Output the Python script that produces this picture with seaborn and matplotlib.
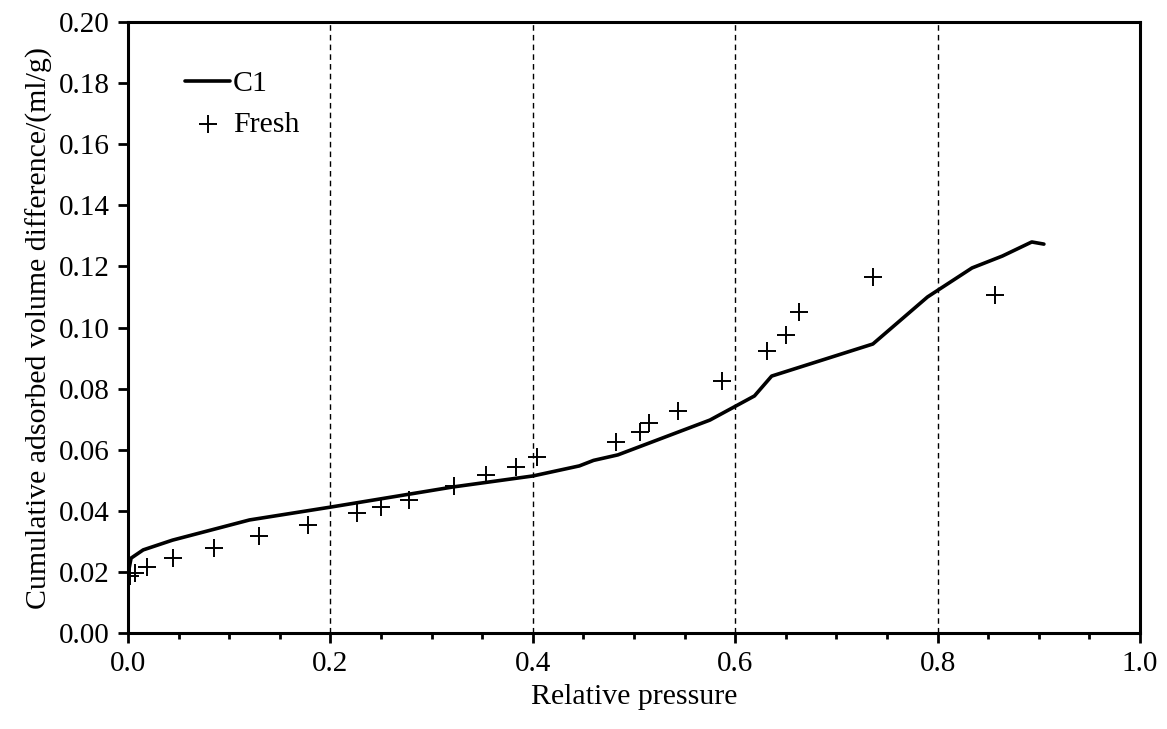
import matplotlib
matplotlib.use("Agg")
import matplotlib.pyplot as plt
import seaborn as sns
import numpy as np
from matplotlib.ticker import MultipleLocator

# C1 line
c1_x = [0.001, 0.003, 0.015, 0.044, 0.12, 0.2, 0.321, 0.400, 0.446, 0.46, 0.484,
        0.575, 0.619, 0.636, 0.736, 0.79, 0.834, 0.864, 0.893, 0.905]
c1_y = [0.021, 0.0245, 0.0272, 0.0304, 0.037, 0.0412, 0.0478, 0.0514, 0.0547, 0.0565,
        0.0583, 0.0697, 0.0776, 0.0841, 0.0946, 0.110, 0.1195, 0.1234, 0.128, 0.1273]

# Fresh points
fresh_x = [0.002, 0.007, 0.019, 0.044, 0.085, 0.129, 0.178, 0.226, 0.250, 0.278, 0.322,
           0.354, 0.383, 0.404, 0.482, 0.506, 0.515, 0.543, 0.587, 0.631, 0.650, 0.663,
           0.736, 0.857]
fresh_y = [0.0187, 0.0196, 0.0216, 0.0245, 0.0278, 0.0317, 0.0353, 0.0393, 0.0412, 0.0435,
           0.0481, 0.0517, 0.0543, 0.0576, 0.0625, 0.0658, 0.0687, 0.0727, 0.0825, 0.0923,
           0.0975, 0.105, 0.1165, 0.1106]

x_ticks = [0.0, 0.2, 0.4, 0.6, 0.8, 1.0]
y_ticks = [0.00, 0.02, 0.04, 0.06, 0.08, 0.10, 0.12, 0.14, 0.16, 0.18, 0.20]
grid_x = [0.2, 0.4, 0.6, 0.8]

sns.set_theme(style="white")
plt.rcParams['font.family'] = ['Liberation Serif', 'DejaVu Serif']
plt.rcParams['text.color'] = 'black'
plt.rcParams['axes.labelcolor'] = 'black'

fig = plt.figure(figsize=(11.67, 7.29), dpi=100)
ax = fig.add_axes([0.1097, 0.1317, 0.8672, 0.8381])

for gx in grid_x:
    ax.axvline(gx, color='black', linestyle=(0, (4, 3)), linewidth=1.0, zorder=1)

sns.lineplot(x=c1_x, y=c1_y, ax=ax, color='black', linewidth=2.6, label='C1',
             sort=False, estimator=None, zorder=3)
sns.scatterplot(x=fresh_x, y=fresh_y, ax=ax, marker='+', s=170, color='black',
                linewidth=1.4, label='Fresh', zorder=4)

ax.set_xlim(0, 1.0)
ax.set_ylim(0, 0.20)
ax.set_xticks(x_ticks)
ax.set_xticklabels([f"{v:.1f}" for v in x_ticks])
ax.set_yticks(y_ticks)
ax.set_yticklabels([f"{v:.2f}" for v in y_ticks])
ax.xaxis.set_minor_locator(MultipleLocator(0.05))

for s in ax.spines.values():
    s.set_color('black')
    s.set_linewidth(2.2)

ax.tick_params(axis='both', which='major', direction='out', length=7, width=2,
               colors='black', labelsize=21, bottom=True, left=True, pad=6)
ax.tick_params(axis='x', which='minor', direction='out', length=4, width=2,
               colors='black', bottom=True)

ax.set_xlabel('Relative pressure', fontsize=21.5, color='black', labelpad=5)
ax.set_ylabel('Cumulative adsorbed volume difference/(ml/g)', fontsize=21.5,
              color='black', labelpad=4)

leg = ax.legend(loc='upper left', frameon=False, fontsize=21.5, handlelength=1.5,
                handletextpad=0.1, labelspacing=0.45, bbox_to_anchor=(0.03, 0.965))
for t in leg.get_texts():
    t.set_color('black')

fig.savefig('out.png', dpi=100)
